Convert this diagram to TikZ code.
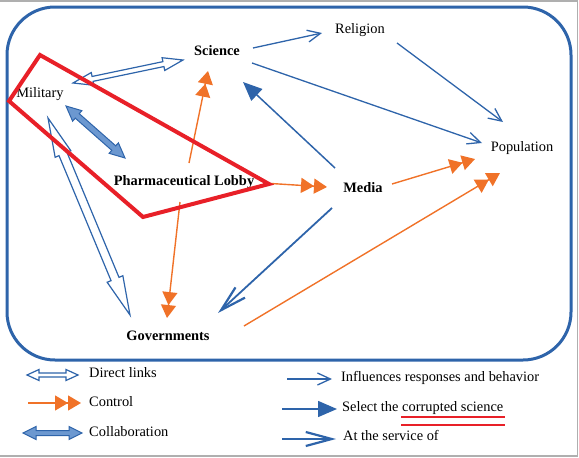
\documentclass[tikz,border=0pt]{standalone}
\usepackage{fontspec}
\setmainfont{Liberation Serif}
\usetikzlibrary{arrows.meta,calc}
\definecolor{fblue}{RGB}{46,100,170}
\definecolor{cblue}{RGB}{108,152,208}
\definecolor{forange}{RGB}{240,114,40}
\definecolor{fred}{RGB}{232,32,40}
\definecolor{fgray}{RGB}{175,175,175}
% #1 style, #2 A, #3 B, #4 head length, #5 head half-width, #6 shaft half-width
\newcommand{\blockarr}[6]{%
  \draw[#1] (#2)
    -- ($(#2)!#4!(#3)!#5!90:(#3)$)
    -- ($(#2)!#4!(#3)!#6!90:(#3)$)
    -- ($(#3)!#4!(#2)!#6!90:(#3)$)
    -- ($(#3)!#4!(#2)!#5!90:(#3)$)
    -- (#3)
    -- ($(#3)!#4!(#2)!#5!-90:(#3)$)
    -- ($(#3)!#4!(#2)!#6!-90:(#3)$)
    -- ($(#2)!#4!(#3)!#6!-90:(#3)$)
    -- ($(#2)!#4!(#3)!#5!-90:(#3)$)
    -- cycle;}
\begin{document}
\begin{tikzpicture}[x=1pt,y=-1pt,
  font=\fontsize{14.4}{17}\selectfont,
  lbl/.style={inner sep=0pt, text height=10pt, text depth=3pt},
  blbl/.style={lbl, font=\fontsize{14.4}{17}\selectfont\bfseries},
  infl/.style={fblue, line width=1.3pt, -{Straight Barb[length=13pt,width=12pt]}},
  sel/.style={fblue, line width=1.5pt, -{Triangle[length=19pt,width=16pt]}},
  serv/.style={fblue, line width=1.8pt, -{Straight Barb[length=26pt,width=14pt,line width=2.2pt]}},
  ctrl/.style={forange, line width=1.4pt, -{Triangle[length=13pt,width=15pt]Triangle[length=13pt,width=15pt]}},
  hollow/.style={draw=fblue, fill=white, line width=1.2pt, line join=miter},
  collab/.style={draw=fblue, fill=cblue, line width=1pt, line join=miter},
  redmark/.style={fred, line width=4pt, line join=miter},
  redline/.style={fred, line width=2.6pt}]
\useasboundingbox (0,0) rectangle (579,458);
\draw[fgray, line width=1.5pt] (0,1) -- (577.5,1) -- (577.5,456) -- (0,456);
\draw[fblue, line width=3pt, rounded corners=48pt] (7,7) rectangle (571,360);

% nodes
\node[blbl] (sci) at (217,52) {Science};
\node[lbl]  (rel) at (360,30) {Religion};
\node[lbl]  (mil) at (40,94) {Military};
\node[blbl] (ph)  at (184,182) {Pharmaceutical Lobby};
\node[blbl] (med) at (363,189) {Media};
\node[lbl]  (pop) at (522,148) {Population};
\node[blbl] (gov) at (168,337) {Governments};

% block-arrow end points
\coordinate (msA) at ($(mil)+(33,-11)$);
\coordinate (msB) at ($(sci)+(-34,8)$);
\coordinate (mgA) at ($(mil)+(8,24)$);
\coordinate (mgB) at ($(gov)+(-38,-22)$);
\coordinate (mpA) at ($(mil)+(26,12)$);
\coordinate (mpB) at ($(ph)+(-59,-24)$);

\blockarr{hollow}{msA}{msB}{20pt}{6.5pt}{2.5pt}
\blockarr{hollow}{mgA}{mgB}{39pt}{8.5pt}{4.3pt}
\blockarr{collab}{mpA}{mpB}{15pt}{7pt}{3pt}

% control
\draw[ctrl] ([shift={(5,-19)}]ph.center) -- ([shift={(-9,19)}]sci.center);
\draw[ctrl] ([shift={(-4,20)}]ph.center) -- ([shift={(-1,-19)}]gov.center);
\draw[ctrl] ([shift={(79,1)}]ph.center) -- ([shift={(-36,-2)}]med.center);
\draw[ctrl] ([shift={(29,-5)}]med.center) -- ([shift={(-47,11)}]pop.center);
\draw[ctrl] ([shift={(76,-11)}]gov.center) -- ([shift={(-22,25)}]pop.center);

% influences
\draw[infl] ([shift={(36,-4)}]sci.center) -- ([shift={(-38,3)}]rel.center);
\draw[infl] ([shift={(37,13)}]rel.center) -- ([shift={(-19,-26)}]pop.center);
\draw[infl] ([shift={(35,11)}]sci.center) -- ([shift={(-40,-5)}]pop.center);

% select corrupted science
\draw[sel] ([shift={(-28,-21)}]med.center) -- ([shift={(26,30)}]sci.center);

% at the service of
\draw[serv] ([shift={(-31,19)}]med.center) -- ([shift={(50,-24)}]gov.center);

% legend
\node[lbl, anchor=west] (lg1) at (89,374) {Direct links};
\node[lbl, anchor=west] (lg2) at (89,403) {Control};
\node[lbl, anchor=west] (lg3) at (89,433) {Collaboration};
\node[lbl, anchor=west] (lg4) at (341,378) {Influences responses and behavior};
\node[lbl, anchor=west] (lg5) at (342,408) {Select the corrupted science};
\node[lbl, anchor=west] (lg6) at (343,437) {At the service of};

\coordinate (l1a) at (27,375);  \coordinate (l1b) at (78,375);
\coordinate (l2a) at (28,403);  \coordinate (l2b) at (81,403);
\coordinate (l3a) at (23,433);  \coordinate (l3b) at (82,433);
\coordinate (l4a) at (287,379); \coordinate (l4b) at (332,379);
\coordinate (l5a) at (282,409); \coordinate (l5b) at (337,409);
\coordinate (l6a) at (282,439); \coordinate (l6b) at (336,439);

\blockarr{hollow}{l1a}{l1b}{12pt}{5.5pt}{2pt}
\draw[ctrl] (l2a) -- (l2b);
\blockarr{collab}{l3a}{l3b}{13pt}{6.5pt}{2.5pt}
\draw[infl] (l4a) -- (l4b);
\draw[sel] (l5a) -- (l5b);
\draw[serv] (l6a) -- (l6b);

% red annotations
\draw[redmark] (40,55) -- (9,101) -- (143,217) -- (269,184) -- cycle;
\draw[redline] (401,417) -- (505,417);
\draw[redline] (401,425) -- (505,425);
\end{tikzpicture}
\end{document}
